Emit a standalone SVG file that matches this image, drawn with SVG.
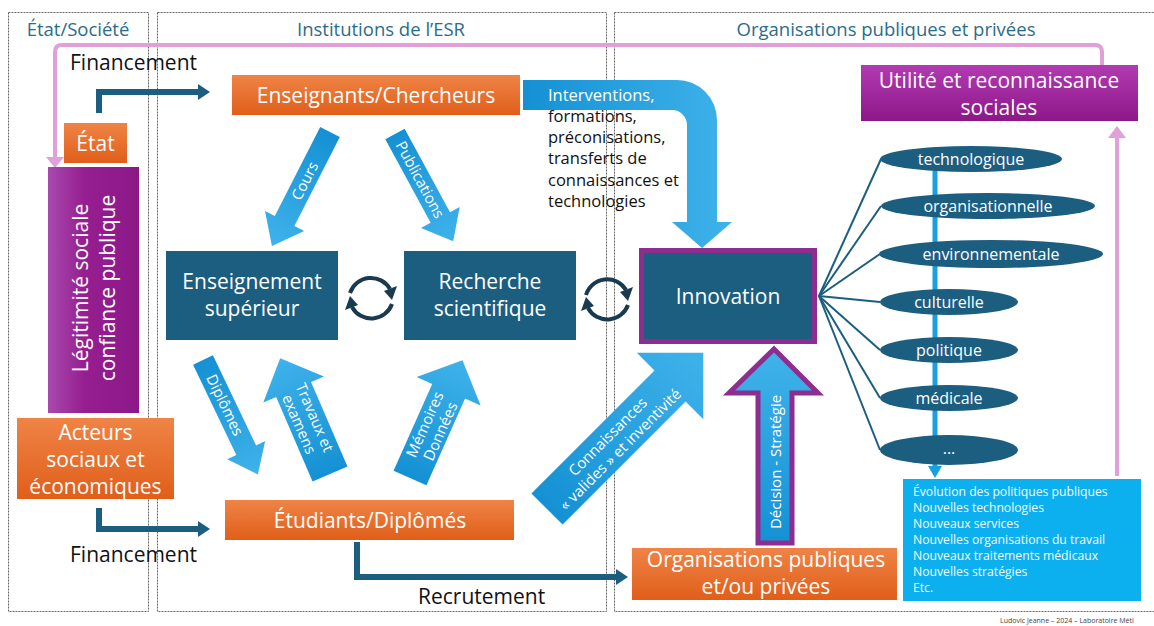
<svg xmlns="http://www.w3.org/2000/svg" width="1154" height="626" viewBox="0 0 1154 626">
<defs>
<linearGradient id="og" x1="0" y1="0" x2="0" y2="1"><stop offset="0" stop-color="#ef8446"/><stop offset="1" stop-color="#e05e1a"/></linearGradient>
<linearGradient id="pg" x1="0" y1="0" x2="1" y2="0"><stop offset="0" stop-color="#a84aae"/><stop offset="0.4" stop-color="#961e90"/><stop offset="1" stop-color="#8c1888"/></linearGradient>
<linearGradient id="pgv" x1="0" y1="0" x2="0" y2="1"><stop offset="0" stop-color="#b23ab2"/><stop offset="1" stop-color="#8c1888"/></linearGradient>
<linearGradient id="bg" x1="0" y1="0" x2="1" y2="0"><stop offset="0" stop-color="#1491d4"/><stop offset="1" stop-color="#3fb2ea"/></linearGradient>
<linearGradient id="bgv" x1="0" y1="1" x2="0" y2="0"><stop offset="0" stop-color="#1491d4"/><stop offset="1" stop-color="#40b3ea"/></linearGradient>
</defs>
<style>
.panel{fill:none;stroke:#666;stroke-width:1;stroke-dasharray:2 1}
.ptitle{font-family:"Open Sans","Liberation Sans",sans-serif;font-size:18.5px;fill:#2b6c8c;text-anchor:middle}
.orange{fill:url(#og)}
.dark{fill:#1c5e80}
.wt{font-family:"Open Sans","Liberation Sans",sans-serif;fill:#fff;text-anchor:middle;font-size:21px}
.bt{font-family:"Open Sans","Liberation Sans",sans-serif;fill:#111}
.barrow{fill:url(#bg)}
.atext{font-family:"Open Sans","Liberation Sans",sans-serif;fill:#fff;font-size:15px;text-anchor:middle}
.conn{fill:none;stroke:#1c5e80;stroke-width:6}
.fan{stroke:#1c5e80;stroke-width:2}
.pink{fill:none;stroke:#e29fda;stroke-width:4}
.cyc{fill:none;stroke:#1a3a4f;stroke-width:4}
.ell{fill:#1c5e80}
.et{font-family:"Open Sans","Liberation Sans",sans-serif;fill:#fff;font-size:16px;text-anchor:middle}
.rt{font-family:"Open Sans","Liberation Sans",sans-serif;fill:#f2f9ff;font-size:12.2px}
</style>

<g id="panels">
<rect class="panel" x="8.5" y="12.5" width="140" height="599"/>
<rect class="panel" x="157.5" y="12.5" width="449" height="599"/>
<rect class="panel" x="614.5" y="12.5" width="560" height="599"/>
<text class="ptitle" x="78" y="36">État/Société</text>
<text class="ptitle" x="381" y="36">Institutions de l’ESR</text>
<text class="ptitle" x="886" y="36">Organisations publiques et privées</text>
</g>

<g id="connectors">
<path class="pink" d="M1102 66 V52 Q1102 45 1095 45 H62 Q55 45 55 52 V158"/>
<polygon points="46,157 64,157 55,168" fill="#e29fda"/>
<path class="pink" d="M1117 476 V136"/>
<polygon points="1108,138 1126,138 1117,126" fill="#e29fda"/>
<path class="conn" d="M99 113 V92 H200"/>
<polygon points="198,84 210,92 198,100" fill="#1c5e80"/>
<path class="conn" d="M99 508 V529 H200"/>
<polygon points="198,521 210,529 198,537" fill="#1c5e80"/>
<path class="conn" d="M357 542 V577 H618"/>
<polygon points="616,569 628,577 616,585" fill="#1c5e80"/>
<line class="fan" x1="819" y1="296" x2="881" y2="159"/>
<line class="fan" x1="819" y1="296" x2="881" y2="206"/>
<line class="fan" x1="819" y1="296" x2="880" y2="254"/>
<line class="fan" x1="819" y1="296" x2="880" y2="302"/>
<line class="fan" x1="819" y1="296" x2="880" y2="350"/>
<line class="fan" x1="819" y1="296" x2="880" y2="398"/>
<line class="fan" x1="819" y1="296" x2="880" y2="450"/>
<line x1="935" y1="165" x2="935" y2="468" stroke="#1aa0de" stroke-width="5"/>
<polygon points="928,466 942,466 935,478" fill="#1aa0de"/>
<path class="cyc" d="M350 293 A22 22 0 0 1 390 289"/>
<polygon points="384,291 397,286 392,300" fill="#1a3a4f"/>
<path class="cyc" d="M392 304 A22 22 0 0 1 352 307"/>
<polygon points="358,305 345,310 350,296" fill="#1a3a4f"/>
<path class="cyc" d="M586 295 A22 22 0 0 1 626 290"/>
<polygon points="620,292 633,287 628,301" fill="#1a3a4f"/>
<path class="cyc" d="M628 305 A22 22 0 0 1 588 308"/>
<polygon points="594,306 581,311 586,297" fill="#1a3a4f"/>
</g>

<g id="flows">
<g transform="translate(330,132) rotate(117)">
<polygon class="barrow" points="0,-11 100,-11 100,-22 128,0 100,22 100,11 0,11"/>
<text class="atext" transform="rotate(180)" x="-55" y="5">Cours</text>
</g>
<g transform="translate(395,134) rotate(61.5)">
<polygon class="barrow" points="0,-11 95,-11 95,-22 122,0 95,22 95,11 0,11"/>
<text class="atext" x="52" y="5">Publications</text>
</g>
<g transform="translate(203,360) rotate(64.4)">
<polygon class="barrow" points="0,-11 100,-11 100,-21 127,0 100,21 100,11 0,11"/>
<text class="atext" x="50" y="5">Diplômes</text>
</g>
<g transform="translate(330,474) rotate(-113.3)">
<polygon class="barrow" points="0,-19 92,-19 92,-33 126,0 92,33 92,19 0,19"/>
<g transform="rotate(180)"><text class="atext" x="-58" y="-3">Travaux et</text><text class="atext" x="-58" y="14">examens</text></g>
</g>
<g transform="translate(410,478) rotate(-66)">
<polygon class="barrow" points="0,-18 95,-18 95,-35 129,0 95,35 95,18 0,18"/>
<text class="atext" x="55" y="-3">Mémoires</text>
<text class="atext" x="55" y="14">Données</text>
</g>
<g transform="translate(547,509) rotate(-45)">
<polygon class="barrow" points="0,-22 174,-22 174,-47 221,0 174,47 174,22 0,22"/>
<text class="atext" x="94" y="-3" font-size="16">Connaissances</text>
<text class="atext" x="94" y="15" font-size="16">« valides » et inventivité</text>
</g>
<path fill="url(#bg)" d="M523 80 H677 A40 40 0 0 1 717 120 V222 H732 L702 248 L672 222 H687 V125 A15 15 0 0 0 672 110 H523 Z"/>
<text class="bt" font-size="16.5" x="548" y="101" style="fill:#fff">Interventions,</text>
<text class="bt" font-size="16.5" x="548" y="122">formations,</text>
<text class="bt" font-size="16.5" x="548" y="143">préconisations,</text>
<text class="bt" font-size="16.5" x="548" y="164">transferts de</text>
<text class="bt" font-size="16.5" x="548" y="186">connaissances et</text>
<text class="bt" font-size="16.5" x="548" y="207">technologies</text>
<polygon points="758,543 758,393 729,393 774,349 818,393 792,393 792,543" fill="url(#bgv)" stroke="#8e2d90" stroke-width="5" stroke-linejoin="miter"/>
<text class="atext" font-size="16" transform="translate(781,462) rotate(-90)" x="0" y="0">Décision - Stratégie</text>
<text class="bt" font-size="21" x="70" y="70">Financement</text>
<text class="bt" font-size="21" x="70" y="562">Financement</text>
<text class="bt" font-size="21" x="418" y="604">Recrutement</text>
</g>

<g id="etat">
<rect class="orange" x="64" y="123" width="63" height="40"/>
<text class="wt" x="95.5" y="151">État</text>
</g>
<g id="legitimite">
<rect x="48" y="167" width="91" height="246" fill="url(#pg)"/>
<text class="wt" transform="translate(93,288) rotate(-90)"><tspan x="0" y="-5">Légitimité sociale</tspan><tspan x="0" y="22">confiance publique</tspan></text>
</g>
<g id="acteurs">
<rect class="orange" x="17" y="418" width="157" height="81"/>
<text class="wt" x="95.5" y="440">Acteurs</text>
<text class="wt" x="95.5" y="467">sociaux et</text>
<text class="wt" x="95.5" y="494">économiques</text>
</g>
<g id="enseignants">
<rect class="orange" x="232" y="75" width="288" height="40"/>
<text class="wt" x="376" y="103">Enseignants/Chercheurs</text>
</g>
<g id="enseignement">
<rect class="dark" x="166" y="251" width="172" height="89"/>
<text class="wt" x="252" y="289">Enseignement</text>
<text class="wt" x="252" y="316">supérieur</text>
</g>
<g id="recherche">
<rect class="dark" x="404" y="251" width="172" height="89"/>
<text class="wt" x="490" y="289">Recherche</text>
<text class="wt" x="490" y="316">scientifique</text>
</g>
<g id="innovation">
<rect class="dark" x="641.5" y="250.5" width="173" height="91" stroke="#8e2d90" stroke-width="5"/>
<text class="wt" x="728" y="304">Innovation</text>
</g>
<g id="etudiants">
<rect class="orange" x="225" y="500" width="289" height="40"/>
<text class="wt" x="370" y="528">Étudiants/Diplômés</text>
</g>
<g id="organisations">
<rect class="orange" x="632" y="548" width="265" height="52"/>
<text class="wt" font-size="20" x="766" y="567">Organisations publiques</text>
<text class="wt" font-size="20" x="766" y="594">et/ou privées</text>
</g>
<g id="utilite">
<rect x="861" y="65" width="277" height="56" fill="url(#pgv)"/>
<text class="wt" font-size="21.5" x="999" y="88">Utilité et reconnaissance</text>
<text class="wt" font-size="21.5" x="999" y="115">sociales</text>
</g>
<g id="types">
<ellipse class="ell" cx="971" cy="159" rx="91" ry="13"/><text class="et" x="971" y="165">technologique</text>
<ellipse class="ell" cx="988" cy="206" rx="107" ry="13"/><text class="et" x="988" y="212">organisationnelle</text>
<ellipse class="ell" cx="991" cy="254" rx="112" ry="14"/><text class="et" x="991" y="260">environnementale</text>
<ellipse class="ell" cx="949" cy="302" rx="69" ry="13"/><text class="et" x="949" y="308">culturelle</text>
<ellipse class="ell" cx="949" cy="350" rx="69" ry="13"/><text class="et" x="949" y="356">politique</text>
<ellipse class="ell" cx="949" cy="398" rx="69" ry="13"/><text class="et" x="949" y="404">médicale</text>
<ellipse class="ell" cx="949" cy="450" rx="69" ry="15"/><text class="et" x="949" y="454">...</text>
</g>
<g id="resultats">
<rect x="903" y="479" width="238" height="122" fill="#0db0ef"/>
<text class="rt" x="913" y="496">Évolution des politiques publiques</text>
<text class="rt" x="913" y="512">Nouvelles technologies</text>
<text class="rt" x="913" y="528">Nouveaux services</text>
<text class="rt" x="913" y="544">Nouvelles organisations du travail</text>
<text class="rt" x="913" y="560">Nouveaux traitements médicaux</text>
<text class="rt" x="913" y="576">Nouvelles stratégies</text>
<text class="rt" x="913" y="592">Etc.</text>
</g>
<text font-family="'Open Sans','Liberation Sans',sans-serif" font-size="7" fill="#444" x="1000" y="623">Ludovic Jeanne – 2024 – Laboratoire Méti</text>
</svg>
